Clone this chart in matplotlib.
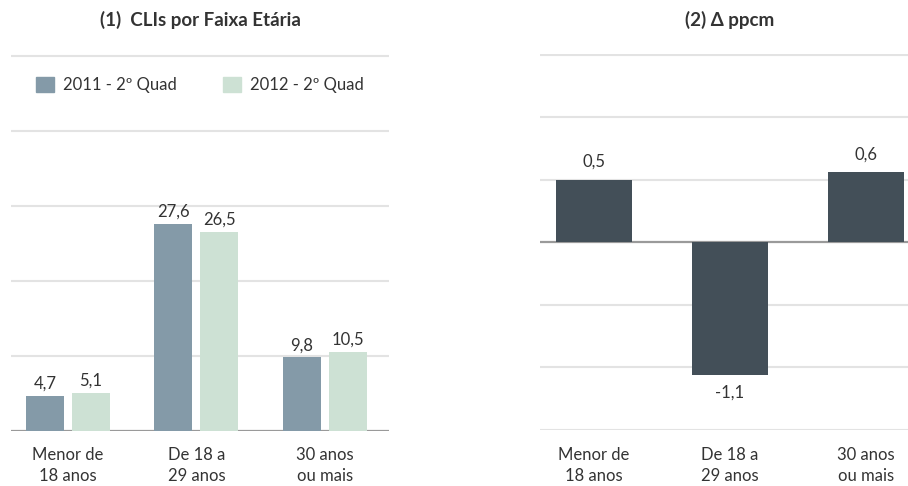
import numpy as np
import matplotlib
matplotlib.use('Agg')
import matplotlib.pyplot as plt
from matplotlib.patches import Patch

plt.rcParams['font.family'] = ['Lato', 'DejaVu Sans']

# Data
categories = ['Menor de\n18 anos', 'De 18 a\n29 anos', '30 anos\nou mais']
series_names = ['2011 - 2º Quad', '2012 - 2º Quad']
vals_2011 = [4.7, 27.6, 9.8]
vals_2012 = [5.1, 26.5, 10.5]
delta_ppcm = [0.50, -1.06, 0.56]

c_2011 = '#849AA8'
c_2012 = '#CDE1D4'
c_delta = '#434F58'
txt = '#333333'
grid_c = '#E3E3E3'
base_c = '#9A9A9A'
fs = 12


def fmt(v):
    return f'{v:.1f}'.replace('.', ',')


def style_axis(ax, ticks, base, pad):
    for s in ax.spines.values():
        s.set_visible(False)
    ax.set_yticks(ticks)
    ax.yaxis.grid(True, color=grid_c, linewidth=1.5)
    ax.set_axisbelow(True)
    ax.tick_params(axis='y', left=False, labelleft=False)
    ax.tick_params(axis='x', bottom=False, pad=pad, labelsize=fs, labelcolor=txt)
    ax.axhline(base, color=base_c, linewidth=1.6, zorder=1.5)
    for lab in ax.get_xticklabels():
        lab.set_linespacing(1.38)


fig = plt.figure(figsize=(9.08, 4.86), dpi=100)

# (1) left chart
ax1 = fig.add_axes([11 / 908, 1 - 431 / 486, 378 / 908, 377 / 486])
x = np.arange(len(categories))
off = 0.179
w = 0.296
b1 = ax1.bar(x - off, vals_2011, w, color=c_2011, zorder=2)
b2 = ax1.bar(x + off, vals_2012, w, color=c_2012, zorder=2)
ax1.set_xlim(-0.444, 2.5)
ax1.set_ylim(0, 50.2)
ax1.set_xticks(x)
ax1.set_xticklabels(categories)
style_axis(ax1, [10, 20, 30, 40, 50], 0, 8)
ax1.bar_label(b1, labels=[fmt(v) for v in vals_2011], padding=3, fontsize=fs, color=txt)
ax1.bar_label(b2, labels=[fmt(v) for v in vals_2012], padding=3, fontsize=fs, color=txt)
handles = [Patch(color=c_2011), Patch(color=c_2012)]
ax1.legend(handles, series_names, loc='center', bbox_to_anchor=(0.5, 0.918), ncol=2,
           frameon=False, fontsize=fs, handlelength=1.05, handleheight=1.05,
           handletextpad=0.55, columnspacing=2.8, labelcolor=txt)

# (2) right chart
ax2 = fig.add_axes([540 / 908, 1 - 430 / 486, 368 / 908, 376 / 486])
b3 = ax2.bar(x, delta_ppcm, 0.559, color=c_delta, zorder=2)
ax2.set_xlim(-0.397, 2.309)
ax2.set_ylim(-1.5, 1.505)
ax2.set_xticks(x)
ax2.set_xticklabels(categories)
style_axis(ax2, [-1.5, -1.0, -0.5, 0.5, 1.0, 1.5], 0, 9)
ax2.bar_label(b3, labels=[fmt(v) for v in delta_ppcm], padding=7, fontsize=fs, color=txt)

fig.text(200 / 908, 1 - 20 / 486, '(1)  CLIs por Faixa Etária', ha='center', va='center',
         fontsize=13.5, fontweight='bold', color=txt)
fig.text(730 / 908, 1 - 20 / 486, '(2) Δ ppcm', ha='center', va='center',
         fontsize=13.5, fontweight='bold', color=txt)

fig.savefig('out.png', dpi=100, facecolor='white')
